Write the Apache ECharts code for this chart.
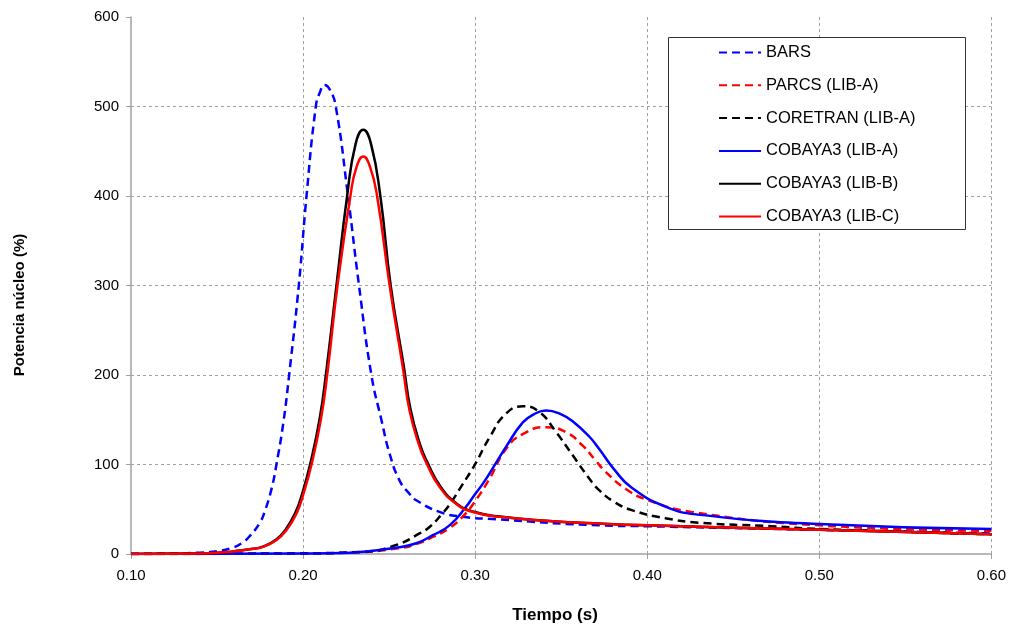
<!DOCTYPE html>
<html>
<head>
<meta charset="utf-8">
<script src="https://cdn.jsdelivr.net/npm/echarts@6/dist/echarts.min.js"></script>
<style>
html,body{margin:0;padding:0;background:#fff;}
#chart{width:1009px;height:627px;}
</style>
</head>
<body>
<div id="chart"></div>
<script>
const seriesNames = ['BARS', 'PARCS (LIB-A)', 'CORETRAN (LIB-A)', 'COBAYA3 (LIB-A)', 'COBAYA3 (LIB-B)', 'COBAYA3 (LIB-C)'];
const xTicks = [0.10, 0.20, 0.30, 0.40, 0.50, 0.60];
const yTicks = [0, 100, 200, 300, 400, 500, 600];
const xTitle = 'Tiempo (s)';
const yTitle = 'Potencia núcleo (%)';

const bars = [[0.10,0],[0.12,0.3],[0.14,1.5],[0.15,3],[0.159,7],[0.1650,13],[0.1690,20],[0.1749,35],[0.1778,48],[0.1817,73],[0.1846,101],[0.1884,145],[0.1919,200],[0.1975,300],[0.2020,400],[0.2074,500],[0.2098,516],[0.2125,524],[0.2155,519],[0.219,500],[0.2261,400],[0.2325,300],[0.2397,200],[0.2455,150],[0.2503,112],[0.2561,82],[0.2619,67],[0.2658,60],[0.2793,47],[0.2929,41.6],[0.3122,38.8],[0.3722,32],[0.40,31],[0.50,27],[0.60,23]];
const parcsA = [[0.10,0],[0.20,0.5],[0.227,1.5],[0.254,6],[0.2658,11],[0.2754,19],[0.2851,29],[0.2929,42],[0.2996,58],[0.3083,84],[0.3180,117.6],[0.3277,134],[0.3413,141.7],[0.3529,136],[0.3625,121],[0.3702,104],[0.3757,92],[0.3880,72],[0.4007,60],[0.4256,47],[0.50,32],[0.60,26]];
const coretranA = [[0.10,0],[0.20,0.8],[0.235,2.5],[0.254,10],[0.2677,23],[0.2740,31],[0.2813,46],[0.2851,55],[0.2924,77],[0.2996,99],[0.3083,130],[0.3180,157],[0.3277,165],[0.3374,158.5],[0.3471,136],[0.3568,110],[0.3664,84],[0.3722,71],[0.3810,58],[0.391,49],[0.4105,40],[0.4297,35],[0.472,31],[0.50,28],[0.60,22]];
const cobayaA = [[0.10,0],[0.20,0.5],[0.227,1.5],[0.254,7],[0.2658,12],[0.2754,21],[0.2851,32],[0.2948,53],[0.2996,66],[0.3050,80],[0.3125,103],[0.3180,120],[0.3277,147],[0.3340,156],[0.3413,160.4],[0.3500,156],[0.3568,148],[0.3664,131],[0.3722,117],[0.3810,94],[0.391,74],[0.4105,53],[0.4297,44],[0.50,33.5],[0.60,28]];
const cobayaB = [[0.10,0],[0.14,0.5],[0.155,2],[0.160,3],[0.170,5.5],[0.1765,8.2],[0.1842,16],[0.1899,27.5],[0.1956,46.5],[0.1994,67],[0.2043,102],[0.2097,152],[0.2134,203],[0.2194,300],[0.2256,400],[0.2305,458],[0.2350,474],[0.2395,458],[0.2449,400],[0.2509,300],[0.2585,210],[0.2624,162],[0.2682,121],[0.2721,103],[0.2798,75.5],[0.2895,56],[0.2987,47.5],[0.3142,41.8],[0.343,37],[0.3722,34],[0.40,32],[0.50,27],[0.60,22]];
const cobayaC = [[0.10,0],[0.14,0.5],[0.155,2],[0.160,3],[0.170,5.5],[0.1768,8],[0.1846,15.6],[0.1904,26.8],[0.1962,45.4],[0.2000,66],[0.2049,100],[0.2103,150],[0.2140,200],[0.2200,300],[0.2275,400],[0.2310,432],[0.2350,444],[0.2390,432],[0.2430,400],[0.2503,300],[0.2580,208],[0.2619,160],[0.2677,120],[0.2716,102],[0.2793,75],[0.2890,56],[0.2987,47],[0.3142,41.5],[0.343,37],[0.3722,34],[0.40,32],[0.50,27],[0.60,22]];

const dataList = [bars, parcsA, coretranA, cobayaA, cobayaB, cobayaC];
const colors = ['#0000ff', '#ff0000', '#000000', '#0000ff', '#000000', '#ff0000'];
const dashed = [true, true, true, false, false, false];

const FONT = '"Liberation Sans", Arial, sans-serif';
const chart = echarts.init(document.getElementById('chart'), null, {renderer: 'canvas'});

const series = seriesNames.map((name, i) => ({
  name: name,
  type: 'line',
  data: dataList[i],
  smooth: 0.5,
  symbol: 'none',
  animation: false,
  lineStyle: {color: colors[i], width: 2.5, type: dashed[i] ? [8, 5] : 'solid'},
  itemStyle: {color: colors[i]},
  z: 2 + i
}));

chart.setOption({
  backgroundColor: '#ffffff',
  animation: false,
  grid: {left: 131, right: 15, top: 17, bottom: 73, containLabel: false},
  graphic: [{
    type: 'rect', left: 668, top: 37, z: 100,
    shape: {width: 297, height: 192},
    style: {fill: '#ffffff', stroke: '#333333', lineWidth: 1}
  }, {
    type: 'text', z: 100,
    x: 20, y: 305, rotation: Math.PI / 2,
    style: {text: yTitle, font: 'bold 15px ' + FONT, fill: '#000', align: 'center', verticalAlign: 'middle'}
  }, {
    type: 'text', z: 100,
    x: 555, y: 615,
    style: {text: xTitle, font: 'bold 17px ' + FONT, fill: '#000', align: 'center', verticalAlign: 'middle'}
  }],
  legend: {
    data: seriesNames,
    orient: 'vertical',
    left: 718, top: 44,
    padding: 0,
    itemWidth: 42, itemHeight: 14, itemGap: 15.8,
    z: 110,
    itemStyle: {opacity: 0},
    textStyle: {fontFamily: FONT, fontSize: 16.5, color: '#000'},
    selectedMode: false
  },
  xAxis: {
    type: 'value',
    min: 0.10, max: 0.60, interval: 0.10,
    axisLine: {show: true, lineStyle: {color: '#a0a0a0', width: 1.5}},
    axisTick: {show: true, length: 5, lineStyle: {color: '#a0a0a0'}},
    axisLabel: {fontFamily: FONT, fontSize: 15, color: '#000', margin: 14,
      formatter: v => xTicks.find(t => Math.abs(t - v) < 1e-6) !== undefined ? v.toFixed(2) : ''},
    splitLine: {show: true, showMinLine: false, lineStyle: {color: '#a0a0a0', type: [3, 3], width: 1}}
  },
  yAxis: {
    type: 'value',
    min: 0, max: 600, interval: 100,
    axisLine: {show: true, lineStyle: {color: '#a0a0a0', width: 1.5}},
    axisTick: {show: true, length: 5, lineStyle: {color: '#a0a0a0'}},
    axisLabel: {fontFamily: FONT, fontSize: 15, color: '#000', margin: 12,
      formatter: v => yTicks.includes(v) ? String(v) : ''},
    splitLine: {show: true, showMinLine: false, showMaxLine: false, lineStyle: {color: '#a0a0a0', type: [3, 3], width: 1}}
  },
  series: series
});
</script>
</body>
</html>
